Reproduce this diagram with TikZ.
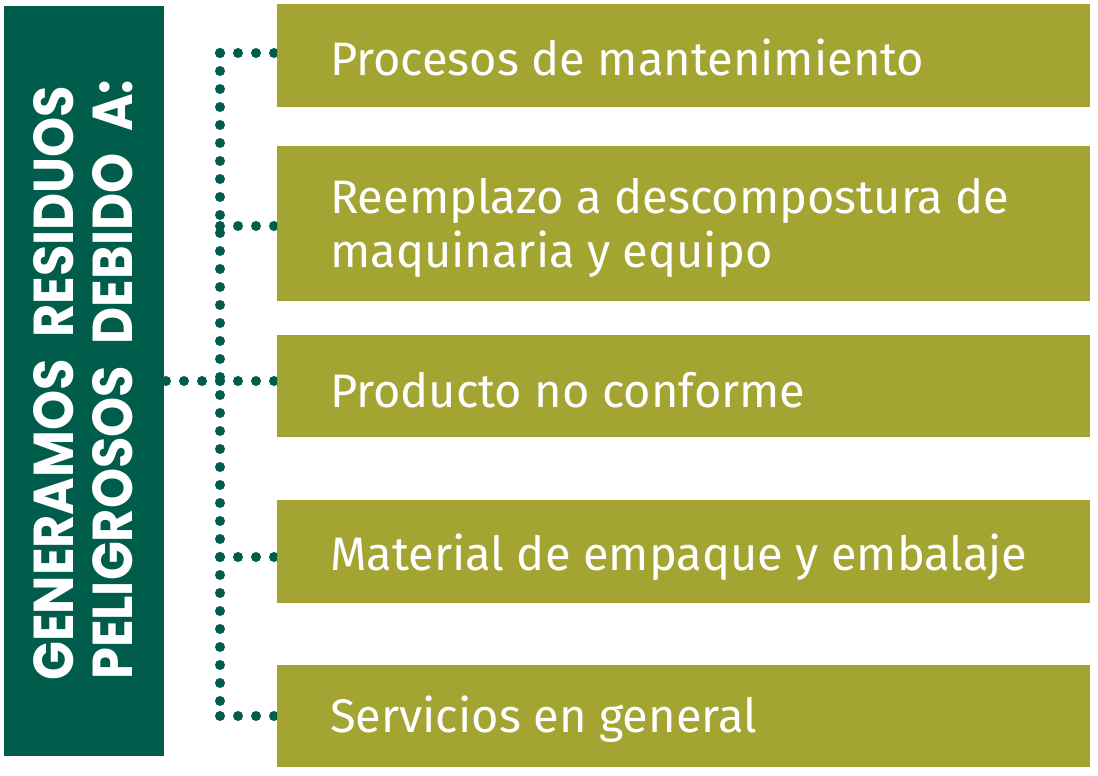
\documentclass[tikz,border=0pt]{standalone}
\usepackage{fontspec}
\setmainfont{Fira Sans}
\newfontfamily\leftfont{Poppins}
\definecolor{dkgreen}{RGB}{0,92,75}
\definecolor{olive}{RGB}{163,164,49}
\begin{document}
\begin{tikzpicture}[x=1pt,y=-1pt,
  itembox/.style={fill=olive,draw=none},
  itemtext/.style={anchor=base west,inner sep=0pt,text=white,font=\fontsize{47}{54}\selectfont},
  dots/.style={draw=dkgreen,line width=10pt,line cap=round,dash pattern=on 0pt off 18pt},
  vtext/.style={rotate=90,anchor=north west,inner sep=0pt,text=white}
]
\useasboundingbox (0,0) rectangle (1098,776);
% left box
\fill[dkgreen] (4,6) rectangle (164,756);
\node[vtext] (l1) at (33,681) {\resizebox{595pt}{40pt}{\leftfont\bfseries GENERAMOS\ \ RESIDUOS}};
\node[vtext] (l2) at (92,680) {\resizebox{600pt}{40pt}{\leftfont\bfseries PELIGROSOS\ \ DEBIDO\ \ A:}};
\coordinate (lb) at (164,381);
% connectors
\coordinate (t1) at (220,53);
\coordinate (t2) at (220,226);
\coordinate (t3) at (220,381);
\coordinate (t4) at (220,557);
\coordinate (t5) at (220,716);
\draw[dots] (t1) -- (t5);
\draw[dots] (t3) -- (lb);
% boxes
\fill[itembox] (277,4) rectangle (1090,107);
\fill[itembox] (277,146) rectangle (1090,301);
\fill[itembox] (277,335) rectangle (1090,437);
\fill[itembox] (277,500) rectangle (1090,603);
\fill[itembox] (277,665) rectangle (1090,767);
\coordinate (w1) at (280,53);
\coordinate (w2) at (280,226);
\coordinate (w3) at (280,381);
\coordinate (w4) at (280,557);
\coordinate (w5) at (280,716);
\begin{scope}
\clip (0,0) rectangle (277,776);
\draw[dots] (t1) -- (w1);
\draw[dots] (t2) -- (w2);
\draw[dots] (t3) -- (w3);
\draw[dots] (t4) -- (w4);
\draw[dots] (t5) -- (w5);
\end{scope}
\node[itemtext] (x1) at (330,76) {Procesos de mantenimiento};
\node[itemtext] (x2a) at (330,213) {Reemplazo a descompostura de};
\node[itemtext] (x2b) at (330,267) {maquinaria y equipo};
\node[itemtext] (x3) at (330,407) {Producto no conforme};
\node[itemtext] (x4) at (330,570) {Material de empaque y embalaje};
\node[itemtext] (x5) at (330,732) {Servicios en general};
\end{tikzpicture}
\end{document}
